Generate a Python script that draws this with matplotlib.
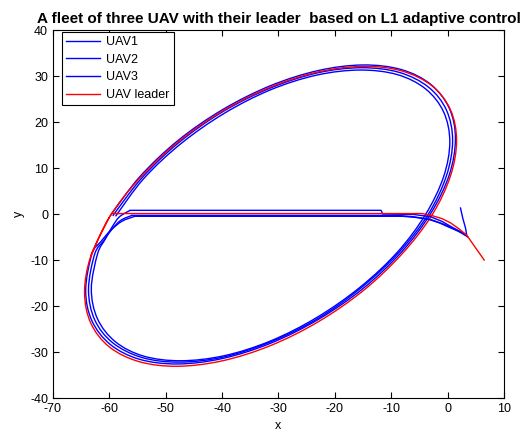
import matplotlib.pyplot as plt
from matplotlib.path import Path
from matplotlib.patches import PathPatch
from matplotlib.lines import Line2D

plt.rcParams["font.family"] = ["Liberation Sans", "DejaVu Sans"]
plt.rcParams["axes.unicode_minus"] = False

# leader: start curve and straight run along y~0 ...
leader_x = [6.5, 5.0, 3.4, 2.0, 0.5, -1.0, -2.6, -4.5, -59.6]
leader_y = [-10.0, -7.4, -4.6, -3.2, -1.9, -1.0, -0.4, 0.1, 0.1]
# ... then one lap of the tilted ellipse
leader_loop_x = [-60.0, -63.3, -64.4, -63.3, -60.0, -54.7, -47.9, -39.9, -31.4, -22.9,
                 -14.9, -8.1, -2.8, 0.5, 1.6, 0.5, -2.8, -8.1, -14.9, -22.9, -31.4,
                 -39.9, -47.9, -54.7, -60.0, -63.3]
leader_loop_y = [-0.7, -9.2, -17.0, -23.7, -28.9, -32.1, -33.1, -31.9, -28.6, -23.4,
                 -16.6, -8.7, -0.3, 8.2, 16.0, 22.7, 27.9, 31.1, 32.1, 30.9, 27.6,
                 22.4, 15.6, 7.7, -0.7, -9.2]

uav1_x = [2.3, 2.7, 3.2, 3.4, 2.0, 0.5, -1.5, -3.5, -6.0, -8.0, -55.5]
uav1_y = [1.3, -0.9, -3.1, -4.6, -3.8, -3.0, -1.9, -1.1, -0.7, -0.5, -0.5]
uav1_loop_x = [-55.5, -57.8, -59.8, -61.5, -63.1, -64.2, -63.1, -59.8, -54.6, -47.8,
               -39.9, -31.4, -22.9, -15.0, -8.2, -3.0, 0.3, 1.4, 0.3, -3.0, -8.2,
               -15.0, -22.9, -31.4, -39.9, -47.8, -54.6, -59.8]
uav1_loop_y = [-0.5, -1.6, -3.6, -6.0, -8.7, -16.6, -23.2, -28.4, -31.6, -32.6,
               -31.4, -28.1, -22.9, -16.2, -8.3, 0.1, 8.5, 16.4, 23.0, 28.2, 31.4,
               32.4, 31.2, 27.9, 22.7, 16.0, 8.1, -0.3]

uav2_x = [3.6, 1.5, -0.5, -3.0, -6.0, -9.0, -56.0]
uav2_y = [-5.0, -3.4, -2.3, -1.2, -0.6, -0.3, -0.3]
uav2_loop_x = [-56.0, -58.0, -59.6, -61.0, -62.6, -63.7, -62.6, -59.4, -54.2, -47.6,
               -39.8, -31.4, -23.0, -15.3, -8.6, -3.4, -0.2, 0.9, -0.2, -3.4, -8.6,
               -15.3, -23.0, -31.4, -39.8, -47.6, -54.2, -59.4]
uav2_loop_y = [-0.3, -1.4, -3.4, -5.8, -8.7, -16.4, -23.0, -28.0, -31.2, -32.2,
               -31.1, -27.8, -22.7, -16.0, -8.3, 0.0, 8.3, 16.0, 22.6, 27.6, 30.8,
               31.8, 30.7, 27.4, 22.3, 15.6, 7.9, -0.4]

uav3_x = [3.0, 1.0, -1.0, -3.0, -6.0, -11.5, -11.8, -56.3]
uav3_y = [-4.3, -3.0, -1.6, -0.6, -0.1, 0.0, 0.8, 0.8]
uav3_loop_x = [-56.3, -58.2, -59.5, -60.7, -62.1, -63.2, -62.1, -58.9, -53.9, -47.3,
               -39.6, -31.4, -23.2, -15.5, -8.9, -3.9, -0.7, 0.4, -0.7, -3.9, -8.9,
               -15.5, -23.2, -31.4, -39.6, -47.3, -53.9, -58.9]
uav3_loop_y = [0.8, -0.6, -2.8, -5.4, -8.7, -16.3, -22.8, -27.8, -30.9, -31.9,
               -30.8, -27.6, -22.5, -15.9, -8.3, -0.1, 8.1, 15.7, 22.2, 27.2, 30.3,
               31.3, 30.2, 27.0, 21.9, 15.3, 7.7, -0.5]


def smooth_path(xs, ys):
    # Catmull-Rom through the read points, drawn as cubic Bezier segments
    pts = list(zip(xs, ys))
    ext = [pts[0]] + pts + [pts[-1]]
    verts = [pts[0]]
    codes = [Path.MOVETO]
    for i in range(1, len(ext) - 2):
        p0, p1, p2, p3 = ext[i - 1], ext[i], ext[i + 1], ext[i + 2]
        c1 = (p1[0] + (p2[0] - p0[0]) / 6, p1[1] + (p2[1] - p0[1]) / 6)
        c2 = (p2[0] - (p3[0] - p1[0]) / 6, p2[1] - (p3[1] - p1[1]) / 6)
        verts += [c1, c2, p2]
        codes += [Path.CURVE4] * 3
    return Path(verts, codes)


fig = plt.figure(figsize=(5.32, 4.44), dpi=100)
ax = fig.add_axes([0.0996, 0.1036, 0.8476, 0.8288])

series = [
    (uav1_x, uav1_y, uav1_loop_x, uav1_loop_y, "#0000ff"),
    (uav2_x, uav2_y, uav2_loop_x, uav2_loop_y, "#0000ff"),
    (uav3_x, uav3_y, uav3_loop_x, uav3_loop_y, "#0000ff"),
    (leader_x, leader_y, leader_loop_x, leader_loop_y, "#ff0000"),
]
for sx, sy, lx, ly, col in series:
    ax.plot(sx + [lx[0]], sy + [ly[0]], color=col, lw=1.0)
    ax.add_patch(PathPatch(smooth_path(lx, ly), fill=False, edgecolor=col, lw=1.0))

ax.set_xlim(-70, 10)
ax.set_ylim(-40, 40)
ax.set_xticks(range(-70, 11, 10))
ax.set_yticks(range(-40, 41, 10))
ax.tick_params(direction="in", top=True, right=True, labelsize=9, length=4)
ax.set_xlabel("x", fontsize=9)
ax.set_ylabel("y", fontsize=9)
ax.set_title("A fleet of three UAV with their leader  based on L1 adaptive control",
             fontsize=11, fontweight="bold", pad=5)

handles = [Line2D([], [], color="#0000ff", lw=1.0),
           Line2D([], [], color="#0000ff", lw=1.0),
           Line2D([], [], color="#0000ff", lw=1.0),
           Line2D([], [], color="#ff0000", lw=1.0)]
leg = ax.legend(handles, ["UAV1", "UAV2", "UAV3", "UAV leader"],
                loc="upper left", bbox_to_anchor=(0.02, 0.995), borderaxespad=0,
                fontsize=9, fancybox=False, framealpha=1, edgecolor="black",
                handlelength=2.7, handletextpad=0.5, labelspacing=0.45,
                borderpad=0.35)
leg.get_frame().set_linewidth(0.8)

fig.savefig("out.png", dpi=100)
